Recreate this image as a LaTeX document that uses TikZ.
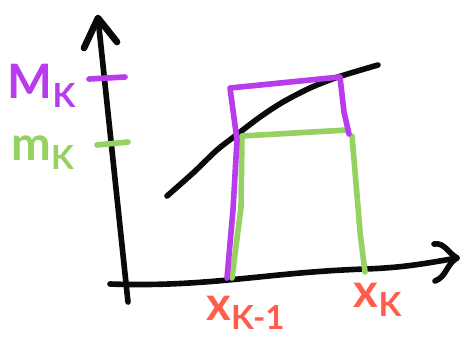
\documentclass[tikz,border=0pt]{standalone}
\usepackage{fontspec}
\setmainfont{Lato}
\usetikzlibrary{positioning,calc}
\definecolor{Ink}{HTML}{0A0A0A}
\definecolor{Violet}{HTML}{B83CEC}
\definecolor{Lime}{HTML}{96D262}
\definecolor{Coral}{HTML}{FF5E4B}
\tikzset{
  pen/.style={line width=3.2pt,line cap=round,line join=round},
  lbl/.style={inner sep=0pt,font=\fontsize{27}{27}\selectfont\bfseries},
}
\begin{document}
\begin{tikzpicture}[x=0.02cm,y=-0.02cm]
        \useasboundingbox (0,0) rectangle (467,339);
        % axes
        \coordinate (ytop) at (98,18);
        \coordinate (ybot) at (128,302);
        \coordinate (xleft) at (110,284);
        \coordinate (xright) at (457,258);
        \draw[pen,Ink] (ybot) -- (ytop);
        \draw[pen,Ink,line width=3.8pt] (84,48) -- (ytop) -- (117,42);
        \draw[pen,Ink] (xleft) to[out=-2,in=182] (365,269) to[out=2,in=190] (xright);
        \draw[pen,Ink] (434,244) to[out=10,in=150] (xright) to[out=210,in=20] (435,281);
        % curve
        \draw[pen,Ink] plot[smooth] coordinates {(167,196) (193,173) (217,150) (235,136)
              (260,117) (283,102) (310,88) (338,77) (378,65)};
        % lower rectangle
        \draw[pen,Lime] (232,278) -- (241,207) -- (242,136) -- (347,130);
        \draw[pen,Lime] (352,136) -- (358,207) -- (360,232) -- (365,272);
        % upper rectangle
        \draw[pen,Violet] (227,278) -- (233,210) -- (237,140) -- (230,88) -- (340,77)
              -- (344,112) -- (349,134);
        % ticks
        \draw[pen,Violet] (89,79) -- (125,77);
        \draw[pen,Lime] (97,145) -- (128,142);
        % labels
        \node[lbl,text=Violet] (Mk) at (42,86) {M\textsubscript{K}};
        \node[lbl,text=Lime] (mk) at (43,153) {m\textsubscript{K}};
        \node[lbl,text=Coral] (xk1) at (246,313) {x\textsubscript{K-1}};
        \node[lbl,text=Coral] (xk) at (378,300) {x\textsubscript{K}};
\end{tikzpicture}
\end{document}
